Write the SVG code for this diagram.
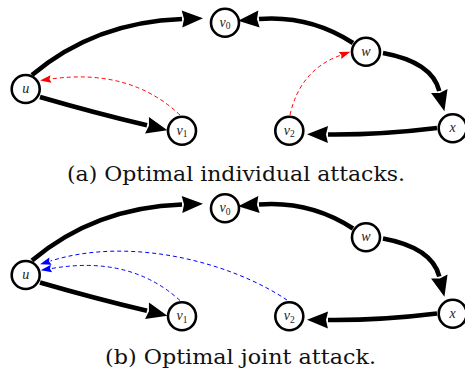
<svg xmlns="http://www.w3.org/2000/svg" width="465" height="371" viewBox="0 0 465 371">
<defs>
<style>
.node circle{fill:#fff;stroke:#000;stroke-width:2.6}
.node text{font-family:"Liberation Serif",serif;font-style:italic;font-size:14px;fill:#222;text-anchor:middle}
.node text tspan.s{font-style:normal;font-size:9.5px}
.e{fill:none;stroke:#000;stroke-width:4.6;marker-end:url(#big)}
.r{fill:none;stroke:#f00;stroke-width:1;stroke-dasharray:4 3;marker-end:url(#red)}
.b{fill:none;stroke:#00f;stroke-width:1;stroke-dasharray:4 3;marker-end:url(#blue)}
.cap{font-family:"DejaVu Serif",serif;font-size:20px;fill:#111;text-anchor:middle}
</style>
<marker id="big" markerUnits="userSpaceOnUse" markerWidth="21" markerHeight="17" refX="0" refY="8.5" orient="auto" viewBox="0 0 21 17" overflow="visible">
<path d="M0,0 L21,8.5 L0,17 L2,8.5 z" fill="#000"/>
</marker>
<marker id="red" markerUnits="userSpaceOnUse" markerWidth="11" markerHeight="7.6" refX="0" refY="3.8" orient="auto" viewBox="0 0 11 7.6" overflow="visible">
<path d="M0,0 L11,3.8 L0,7.6 L1.5,3.8 z" fill="#f00"/>
</marker>
<marker id="blue" markerUnits="userSpaceOnUse" markerWidth="11" markerHeight="7.6" refX="0" refY="3.8" orient="auto" viewBox="0 0 11 7.6" overflow="visible">
<path d="M0,0 L11,3.8 L0,7.6 L1.5,3.8 z" fill="#00f"/>
</marker>
</defs>
<g id="connectors">
<path class="e" d="M32 75 Q95 22 182 19"/>
<path class="e" d="M40 97 Q95 113 147 125.3"/>
<path class="e" d="M353 43 Q310 15 259 19"/>
<path class="e" d="M383 53 Q432 62 439.3 91"/>
<path class="e" d="M437 128 Q380 135 328 134.5"/>
<path class="r" d="M180 115 Q130 68 51 79"/>
<path class="r" d="M290 115 Q300 70 340 55.5"/>
<path class="e" d="M32 260.5 Q95 207.5 182 204.5"/>
<path class="e" d="M40 282.5 Q95 298.5 147 310.8"/>
<path class="e" d="M353 228.5 Q310 200.5 259 204.5"/>
<path class="e" d="M383 238.5 Q432 247.5 439.3 276.5"/>
<path class="e" d="M437 313.5 Q380 320.5 328 320"/>
<path class="b" d="M180 300.5 Q130 255 51.5 268.5"/>
<path class="b" d="M287 300 C230 262 130 236 50.5 261"/>
</g>
<g id="u_a" class="node"><circle cx="25.7" cy="89" r="14"/><text x="25.7" y="93">u</text></g>
<g id="v0_a" class="node"><circle cx="225" cy="22.7" r="14"/><text x="225" y="26.7">v<tspan class="s" dy="2.5">0</tspan></text></g>
<g id="v1_a" class="node"><circle cx="182" cy="130.7" r="14"/><text x="182" y="134.7">v<tspan class="s" dy="2.5">1</tspan></text></g>
<g id="w_a" class="node"><circle cx="366" cy="51.7" r="14"/><text x="366" y="55.7">w</text></g>
<g id="v2_a" class="node"><circle cx="289.3" cy="130.7" r="14"/><text x="289.3" y="134.7">v<tspan class="s" dy="2.5">2</tspan></text></g>
<g id="x_a" class="node"><circle cx="452.7" cy="128.3" r="14"/><text x="452.7" y="132.3">x</text></g>
<g id="u_b" class="node"><circle cx="25.7" cy="275" r="14"/><text x="25.7" y="279">u</text></g>
<g id="v0_b" class="node"><circle cx="225" cy="208.2" r="14"/><text x="225" y="212.2">v<tspan class="s" dy="2.5">0</tspan></text></g>
<g id="v1_b" class="node"><circle cx="182" cy="316.2" r="14"/><text x="182" y="320.2">v<tspan class="s" dy="2.5">1</tspan></text></g>
<g id="w_b" class="node"><circle cx="366" cy="237.2" r="14"/><text x="366" y="241.2">w</text></g>
<g id="v2_b" class="node"><circle cx="289.3" cy="316.2" r="14"/><text x="289.3" y="320.2">v<tspan class="s" dy="2.5">2</tspan></text></g>
<g id="x_b" class="node"><circle cx="452.7" cy="313.8" r="14"/><text x="452.7" y="317.8">x</text></g>
<text class="cap" x="236" y="181" textLength="338" lengthAdjust="spacingAndGlyphs">(a) Optimal individual attacks.</text>
<text class="cap" x="240.5" y="364" textLength="271" lengthAdjust="spacingAndGlyphs">(b) Optimal joint attack.</text>
</svg>
